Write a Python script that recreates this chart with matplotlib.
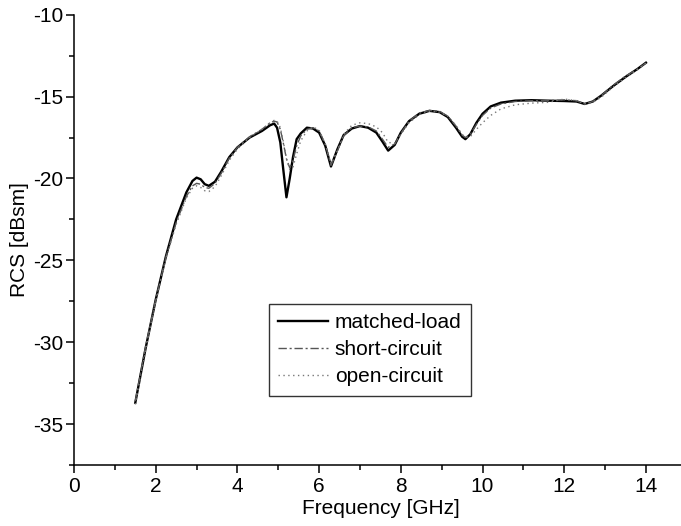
import matplotlib
matplotlib.use('Agg')
import matplotlib.pyplot as plt
from matplotlib.ticker import MultipleLocator

plt.rcParams['font.family'] = ['Liberation Sans', 'DejaVu Sans']
plt.rcParams['axes.unicode_minus'] = False

# frequency samples in GHz
freq = [1.5, 1.75, 2.0, 2.25, 2.5, 2.75, 2.9, 3.0, 3.1, 3.2, 3.3, 3.45, 3.6, 3.8,
        4.0, 4.3, 4.6, 4.8, 4.9, 4.97, 5.05, 5.12, 5.2, 5.28, 5.36, 5.45, 5.55,
        5.7, 5.85, 6.0, 6.15, 6.29, 6.45, 6.6, 6.8, 7.0, 7.2, 7.4, 7.55, 7.69,
        7.85, 8.0, 8.2, 8.45, 8.7, 8.95, 9.15, 9.35, 9.5, 9.58, 9.7, 9.85, 10.0,
        10.2, 10.45, 10.8, 11.2, 11.6, 12.0, 12.3, 12.5, 12.7, 12.9, 13.2, 13.5,
        13.8, 14.0]

# RCS in dBsm for each termination
rcs_matched = [-33.7, -30.4, -27.4, -24.75, -22.5, -20.85, -20.15, -19.95, -20.05,
               -20.35, -20.45, -20.2, -19.6, -18.7, -18.1, -17.5, -17.1, -16.75,
               -16.65, -16.9, -17.8, -19.4, -21.15, -20.0, -18.7, -17.6, -17.25,
               -16.9, -16.95, -17.2, -18.0, -19.27, -18.2, -17.35, -16.95, -16.8,
               -16.9, -17.2, -17.75, -18.3, -17.95, -17.2, -16.5, -16.05, -15.87,
               -15.95, -16.25, -16.9, -17.45, -17.6, -17.3, -16.6, -16.05, -15.6,
               -15.37, -15.25, -15.22, -15.25, -15.27, -15.3, -15.45, -15.3, -14.95,
               -14.35, -13.8, -13.3, -12.93]

rcs_short = [-33.6, -30.3, -27.4, -24.8, -22.7, -21.1, -20.45, -20.3, -20.35,
             -20.55, -20.6, -20.3, -19.7, -18.75, -18.1, -17.45, -17.0, -16.6,
             -16.5, -16.55, -17.0, -17.8, -18.8, -19.35, -18.9, -18.0, -17.4,
             -17.0, -16.9, -17.1, -17.9, -19.2, -18.3, -17.4, -16.9, -16.8,
             -16.85, -17.1, -17.6, -18.1, -17.9, -17.25, -16.5, -16.0, -15.85,
             -15.9, -16.2, -16.8, -17.35, -17.5, -17.3, -16.7, -16.15, -15.7,
             -15.45, -15.3, -15.25, -15.25, -15.2, -15.25, -15.45, -15.3, -14.95,
             -14.3, -13.75, -13.3, -12.95]

rcs_open = [-33.8, -30.5, -27.5, -24.9, -22.8, -21.2, -20.6, -20.45, -20.55,
            -20.75, -20.8, -20.5, -19.85, -18.9, -18.2, -17.5, -17.0, -16.6,
            -16.45, -16.5, -16.9, -17.7, -18.8, -19.45, -19.3, -18.5, -17.7,
            -17.1, -16.85, -17.05, -17.9, -19.1, -18.3, -17.3, -16.75, -16.6,
            -16.65, -16.85, -17.2, -17.8, -17.85, -17.3, -16.6, -16.1, -15.9,
            -15.95, -16.2, -16.75, -17.3, -17.5, -17.45, -17.0, -16.6, -16.15,
            -15.75, -15.5, -15.4, -15.35, -15.15, -15.25, -15.45, -15.35, -15.05,
            -14.4, -13.85, -13.35, -12.97]

fig = plt.figure(figsize=(6.81, 5.26), dpi=100)
ax = fig.add_axes([0.1087, 0.116, 0.8998, 0.856])

ax.plot(freq, rcs_matched, color='black', lw=1.7, label='matched-load')
ax.plot(freq, rcs_short, color='#555555', lw=1.0, ls=(0, (6, 2, 1.5, 2)),
        label='short-circuit')
ax.plot(freq, rcs_open, color='#777777', lw=1.0, ls=(0, (1, 2.5)),
        label='open-circuit')

ax.set_xlim(0, 15)
ax.set_ylim(-37.5, -10)
ax.xaxis.set_major_locator(MultipleLocator(2))
ax.xaxis.set_minor_locator(MultipleLocator(1))
ax.yaxis.set_major_locator(MultipleLocator(5))
ax.yaxis.set_minor_locator(MultipleLocator(2.5))

ax.spines['top'].set_visible(False)
ax.spines['right'].set_visible(False)
for s in ('left', 'bottom'):
    ax.spines[s].set_linewidth(1.1)

ax.tick_params(which='major', direction='out', length=6, width=1.1, labelsize=15)
ax.tick_params(which='minor', direction='out', length=3.5, width=1.1)
ax.tick_params(axis='x', which='major', pad=3)
ax.tick_params(axis='y', which='major', pad=1.5)

ax.set_xlabel('Frequency [GHz]', fontsize=15, labelpad=2)
ax.set_ylabel('RCS [dBsm]', fontsize=15, labelpad=3)

leg = ax.legend(loc='upper left', bbox_to_anchor=(269 / 681, 1 - 304 / 526),
                bbox_transform=fig.transFigure, fontsize=15, frameon=True,
                fancybox=False, edgecolor='black', borderaxespad=0,
                handlelength=2.4, handletextpad=0.3, labelspacing=0.38,
                borderpad=0.45)
leg.get_frame().set_linewidth(1.0)

fig.savefig('out.png', dpi=100)
